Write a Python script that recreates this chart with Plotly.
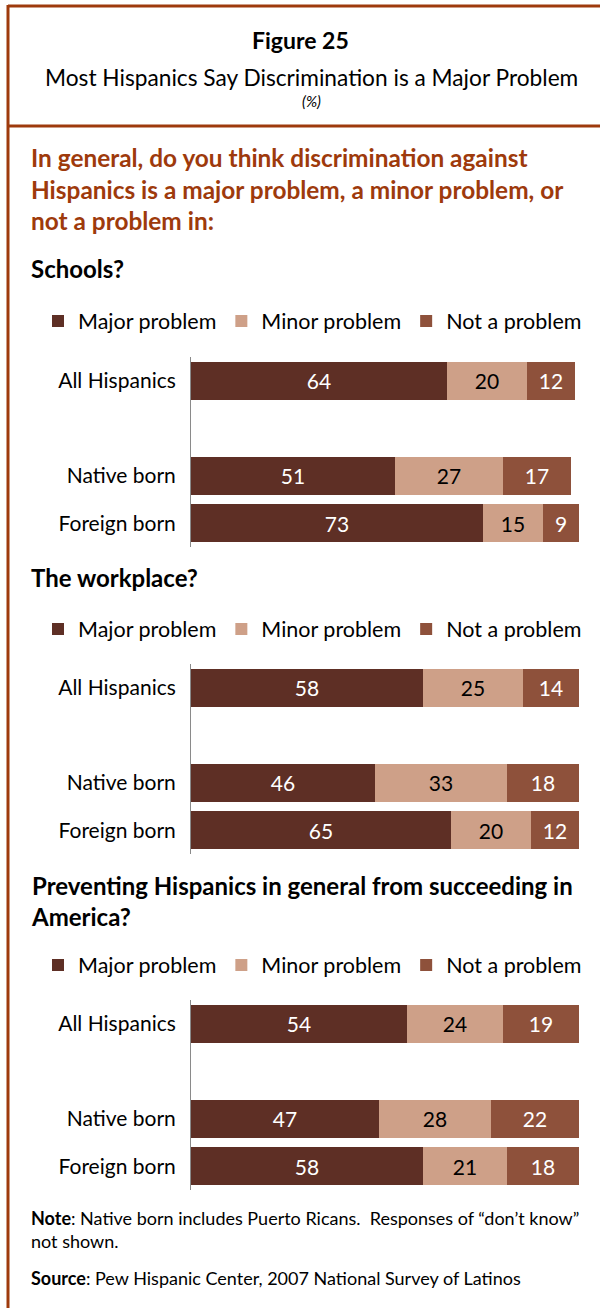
import plotly.graph_objects as go

# ---------------- data ----------------
groups = ["All Hispanics", "Native born", "Foreign born"]
series_names = ["Major problem", "Minor problem", "Not a problem"]
section_titles = ["Schools?", "The workplace?",
                  "Preventing Hispanics in general from succeeding in<br>America?"]

schools_major = [64, 51, 73]
schools_minor = [20, 27, 15]
schools_not = [12, 17, 9]

workplace_major = [58, 46, 65]
workplace_minor = [25, 33, 20]
workplace_not = [14, 18, 12]

succeed_major = [54, 47, 58]
succeed_minor = [24, 28, 21]
succeed_not = [19, 22, 18]

sections = [
    [schools_major, schools_minor, schools_not],
    [workplace_major, workplace_minor, workplace_not],
    [succeed_major, succeed_minor, succeed_not],
]

# ---------------- style ----------------
W, H = 600, 1308
colors = ["#5E2F25", "#CEA088", "#8E513B"]
text_colors = ["white", "black", "white"]
frame_color = "#9E3A0C"
FONT = "Lato"
categories = ["All Hispanics", "spacer", "Native born", "Foreign born"]


def px_x(x):
    return x / W


def px_y(y):
    return 1 - y / H


# pixel layout of each section: (top of bar area, bottom of bar area, legend y)
sec_layout = [
    (357, 547, 321),
    (664, 854, 629),
    (1000, 1190, 965),
]

fig = go.Figure()
layout_axes = {}
for si, vals in enumerate(sections):
    ax_i = si + 1
    xa = "x" if ax_i == 1 else f"x{ax_i}"
    ya = "y" if ax_i == 1 else f"y{ax_i}"
    leg = "legend" if ax_i == 1 else f"legend{ax_i}"
    for k, name in enumerate(series_names):
        fig.add_trace(go.Bar(
            x=vals[k], y=groups, orientation="h", name=name,
            marker=dict(color=colors[k], line=dict(width=0)),
            text=vals[k], texttemplate="%{text}",
            textposition="inside", insidetextanchor="middle",
            textfont=dict(family=FONT, size=21, color=text_colors[k]),
            constraintext="none",
            xaxis=xa, yaxis=ya, legend=leg, showlegend=True,
            hoverinfo="skip",
        ))
    top, bot, leg_y = sec_layout[si]
    xkey = "xaxis" if ax_i == 1 else f"xaxis{ax_i}"
    ykey = "yaxis" if ax_i == 1 else f"yaxis{ax_i}"
    layout_axes[xkey] = dict(domain=[px_x(191), px_x(591)], range=[0, 100],
                             visible=False, anchor=ya, fixedrange=True)
    layout_axes[ykey] = dict(domain=[px_y(bot), px_y(top)], anchor=xa,
                             type="category", categoryorder="array",
                             categoryarray=categories, autorange="reversed",
                             tickvals=groups, ticktext=groups,
                             showline=True, linecolor="#8a8a8a", linewidth=1,
                             showgrid=False, zeroline=False, ticks="",
                             ticklabelstandoff=10,
                             tickfont=dict(family=FONT, size=21, color="black"),
                             fixedrange=True)
    layout_axes[leg] = dict(orientation="h", x=px_x(38), y=px_y(leg_y),
                            xanchor="left", yanchor="middle",
                            font=dict(family=FONT, size=21.5, color="black"),
                            itemwidth=30, bgcolor="rgba(0,0,0,0)",
                            traceorder="normal", itemclick=False,
                            itemdoubleclick=False)

fig.update_layout(barmode="stack", bargap=0.2, width=W, height=H,
                  margin=dict(l=0, r=0, t=0, b=0),
                  paper_bgcolor="white", plot_bgcolor="white",
                  font=dict(family=FONT), **layout_axes)

annotations = [
    dict(text="<b>Figure 25</b>", x=px_x(300), y=px_y(40), xanchor="center",
         font=dict(size=23, color="black")),
    dict(text="Most Hispanics Say Discrimination is a Major Problem", x=px_x(311),
         y=px_y(78), xanchor="center", font=dict(size=22.7, color="black")),
    dict(text="<i>(%)</i>", x=px_x(311), y=px_y(101), xanchor="center",
         font=dict(size=15, color="black")),
    dict(text="<b>In general, do you think discrimination against<br>"
              "Hispanics is a major problem, a minor problem, or<br>"
              "not a problem in:</b>",
         x=px_x(29), y=px_y(189), xanchor="left", align="left",
         font=dict(size=24.4, color=frame_color)),
    dict(text="<b>" + section_titles[0] + "</b>", x=px_x(29), y=px_y(268),
         xanchor="left", align="left", font=dict(size=24, color="black")),
    dict(text="<b>" + section_titles[1] + "</b>", x=px_x(29), y=px_y(577),
         xanchor="left", align="left", font=dict(size=24, color="black")),
    dict(text="<b>" + section_titles[2] + "</b>", x=px_x(29), y=px_y(901),
         xanchor="left", align="left", font=dict(size=24, color="black")),
    dict(text="<b>Note</b>: Native born includes Puerto Ricans.  Responses of \u201cdon\u2019t know\u201d<br>not shown.",
         x=px_x(29), y=px_y(1229), xanchor="left", align="left",
         font=dict(size=18, color="black")),
    dict(text="<b>Source</b>: Pew Hispanic Center, 2007 National Survey of Latinos",
         x=px_x(29), y=px_y(1278), xanchor="left", align="left",
         font=dict(size=18, color="black")),
]
for a in annotations:
    a.update(xref="paper", yref="paper", yanchor="middle", showarrow=False)
    a["font"]["family"] = FONT
fig.update_layout(annotations=annotations)

shapes = [
    dict(type="line", x0=px_x(8), x1=1, y0=px_y(6), y1=px_y(6)),
    dict(type="line", x0=px_x(8), x1=1, y0=px_y(126), y1=px_y(126)),
    dict(type="line", x0=px_x(8), x1=px_x(8), y0=px_y(5), y1=0),
]
for s in shapes:
    s.update(xref="paper", yref="paper", line=dict(color=frame_color, width=3))
fig.update_layout(shapes=shapes)

fig.write_html("out.html",
               config={"displayModeBar": False, "staticPlot": True},
               post_script="document.body.style.margin='0';"
                           "document.body.style.overflow='hidden';")
